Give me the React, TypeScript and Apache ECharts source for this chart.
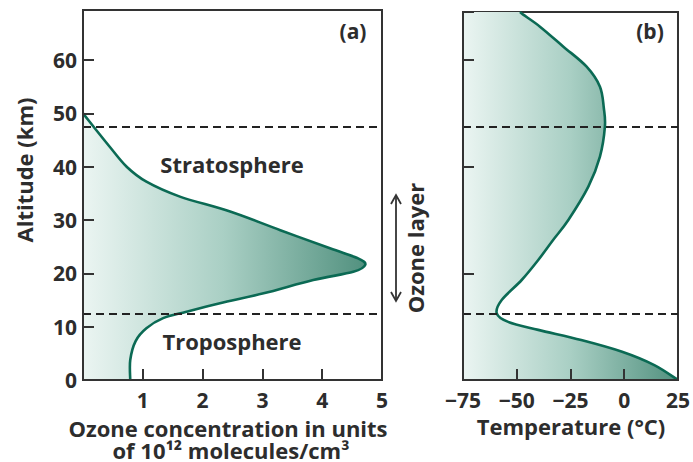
import React, { useEffect, useRef } from "react";
import * as echarts from "echarts";

// Panel (a): ozone concentration (10^12 molecules/cm3) vs altitude (km)
const ozoneConc = [0.79, 0.79, 0.88, 1.06, 1.34, 1.73, 2.29, 3.02, 3.85, 4.52, 4.72, 4.6, 4.13, 3.3, 2.46, 1.62, 1.06, 0.73, 0.45, 0.22, 0.0];
const ozoneAlt = [0, 3.75, 7.3, 9.7, 11.6, 12.8, 14.4, 16.25, 18.75, 20.3, 21.6, 22.8, 24.7, 28.1, 31.6, 34.4, 37.2, 40, 43.7, 46.9, 50];

// Panel (b): temperature (°C) vs altitude (km)
const tempC = [25, 14, -1, -20, -40, -54, -59.3, -57, -47.7, -40, -33, -26, -16.7, -11.3, -9, -9.5, -11.3, -17.5, -28.3, -39.2, -47, -48.5];
const tempAlt = [0, 2.8, 5.3, 7.5, 9.4, 10.9, 12.5, 15, 18.75, 22.5, 26.3, 30, 36.25, 41.9, 47.5, 51, 55, 58.75, 62.5, 66.25, 68.5, 69];

const altTicks = [0, 10, 20, 30, 40, 50, 60];
const ozoneTicks = [0, 1, 2, 3, 4, 5];
const tempTicks = [-75, -50, -25, 0, 25];
const boundaryAlt = [47.5, 12.5];

const FONT = "Open Sans";
const INK = "#2d2d2d";
const CURVE = "#0b6a54";

function fmt(p: number[]) {
  return p[0].toFixed(2) + " " + p[1].toFixed(2);
}

function curveSegments(pts: number[][]) {
  let d = "";
  for (let i = 0; i < pts.length - 1; i++) {
    const p0 = pts[i - 1] || pts[i];
    const p1 = pts[i];
    const p2 = pts[i + 1];
    const p3 = pts[i + 2] || p2;
    const c1 = [p1[0] + (p2[0] - p0[0]) / 6, p1[1] + (p2[1] - p0[1]) / 6];
    const c2 = [p2[0] - (p3[0] - p1[0]) / 6, p2[1] - (p3[1] - p1[1]) / 6];
    d += " C " + fmt(c1) + " " + fmt(c2) + " " + fmt(p2);
  }
  return d;
}

function makeRenderer(xs: number[], ys: number[], baseX: number) {
  return (params: any, api: any) => {
    if (params.dataIndex !== 0) return null;
    const pts = xs.map((x, i) => api.coord([x, ys[i]]));
    const segs = curveSegments(pts);
    const b0 = api.coord([baseX, ys[0]]);
    const bN = api.coord([baseX, ys[ys.length - 1]]);
    const fillPath = "M " + fmt(b0) + " L " + fmt(pts[0]) + segs + " L " + fmt(bN) + " Z";
    const strokePath = "M " + fmt(pts[0]) + segs;
    return {
      type: "group",
      children: [
        {
          type: "path",
          shape: { pathData: fillPath },
          style: {
            fill: new echarts.graphic.LinearGradient(0, 0, 1, 0, [
              { offset: 0, color: "#ebf5f2" },
              { offset: 0.5, color: "#a9cfc4" },
              { offset: 1, color: "#52917f" },
            ]),
            stroke: null,
          },
        },
        {
          type: "path",
          shape: { pathData: strokePath },
          style: { fill: null, stroke: CURVE, lineWidth: 2.6 },
        },
      ],
    };
  };
}

const tickLabel = {
  color: INK,
  fontFamily: FONT,
  fontWeight: "bold" as const,
  fontSize: 21,
};

const dashed = {
  silent: true,
  symbol: ["none", "none"],
  label: { show: false },
  lineStyle: { type: [8, 5], color: "#222", width: 2 },
  data: boundaryAlt.map((v) => ({ yAxis: v })),
};

const axisLine = { show: true, onZero: false, lineStyle: { color: "#333", width: 2 } };
const axisTick = { show: true, inside: true, length: 11, lineStyle: { color: "#333", width: 2 } };

export default function App() {
  const ref = useRef<HTMLDivElement>(null);
  useEffect(() => {
    if (!ref.current) return;
    const chart = echarts.init(ref.current, null, { renderer: "svg" });
    const titleStyle = { fill: INK, fontFamily: FONT, fontWeight: "bold", fontSize: 22 };
    chart.setOption({
      animation: false,
      grid: [
        { left: 83, right: 311, top: 10, bottom: 82, show: true, borderColor: "#333", borderWidth: 2 },
        { left: 463, right: 15, top: 12, bottom: 82, show: true, borderColor: "#333", borderWidth: 2 },
      ],
      xAxis: [
        {
          type: "value",
          gridIndex: 0,
          min: ozoneTicks[0],
          max: ozoneTicks[ozoneTicks.length - 1],
          interval: 1,
          z: 5,
          splitLine: { show: false },
          axisLine,
          axisTick,
          axisLabel: { ...tickLabel, margin: 9, formatter: (v: number) => (v === 0 ? "" : String(v)) },
        },
        {
          type: "value",
          gridIndex: 1,
          min: tempTicks[0],
          max: tempTicks[tempTicks.length - 1],
          interval: 25,
          z: 5,
          splitLine: { show: false },
          axisLine,
          axisTick,
          axisLabel: {
            ...tickLabel,
            margin: 9,
            formatter: (v: number) => (v < 0 ? "\u2212" + Math.abs(v) : String(v)),
          },
        },
      ],
      yAxis: [
        {
          type: "value",
          gridIndex: 0,
          min: altTicks[0],
          max: 69.4,
          interval: 10,
          z: 5,
          splitLine: { show: false },
          axisLine,
          axisTick,
          axisLabel: {
            ...tickLabel,
            margin: 6,
            formatter: (v: number) => (altTicks.indexOf(v) >= 0 ? String(v) : ""),
          },
        },
        {
          type: "value",
          gridIndex: 1,
          min: 0,
          max: 69,
          interval: 20,
          z: 5,
          splitLine: { show: false },
          axisLine,
          axisTick,
          axisLabel: { show: false },
        },
      ],
      series: [
        {
          type: "custom",
          xAxisIndex: 0,
          yAxisIndex: 0,
          z: 2,
          encode: { x: 0, y: 1 },
          data: ozoneConc.map((c, i) => [c, ozoneAlt[i]]),
          renderItem: makeRenderer(ozoneConc, ozoneAlt, 0),
          markLine: dashed,
        },
        {
          type: "custom",
          xAxisIndex: 1,
          yAxisIndex: 1,
          z: 2,
          encode: { x: 0, y: 1 },
          data: tempC.map((c, i) => [c, tempAlt[i]]),
          renderItem: makeRenderer(tempC, tempAlt, -75),
          markLine: dashed,
        },
      ],
      graphic: [
        { type: "text", x: 24, y: 170, rotation: Math.PI / 2, style: { ...titleStyle, text: "Altitude (km)", align: "center", verticalAlign: "middle" } },
        { type: "text", x: 353, y: 31, style: { ...titleStyle, fontSize: 21, text: "(a)", align: "center", verticalAlign: "middle" } },
        { type: "text", x: 650, y: 31, style: { ...titleStyle, fontSize: 21, text: "(b)", align: "center", verticalAlign: "middle" } },
        { type: "text", x: 232, y: 164, style: { ...titleStyle, text: "Stratosphere", align: "center", verticalAlign: "middle" } },
        { type: "text", x: 232, y: 341, style: { ...titleStyle, text: "Troposphere", align: "center", verticalAlign: "middle" } },
        { type: "text", x: 415, y: 248, rotation: Math.PI / 2, style: { ...titleStyle, text: "Ozone layer", align: "center", verticalAlign: "middle" } },
        { type: "line", shape: { x1: 396, y1: 195, x2: 396, y2: 301 }, style: { stroke: "#333", lineWidth: 1.8 } },
        { type: "polyline", shape: { points: [[391, 204], [396, 195], [401, 204]] }, style: { stroke: "#333", lineWidth: 1.8, fill: null } },
        { type: "polyline", shape: { points: [[391, 292], [396, 301], [401, 292]] }, style: { stroke: "#333", lineWidth: 1.8, fill: null } },
        { type: "text", x: 228, y: 428, style: { ...titleStyle, text: "Ozone concentration in units", align: "center", verticalAlign: "middle" } },
        { type: "text", x: 231, y: 450, style: { ...titleStyle, text: "of 10\u00b9\u00b2 molecules/cm\u00b3", align: "center", verticalAlign: "middle" } },
        { type: "text", x: 571, y: 426, style: { ...titleStyle, text: "Temperature (\u00b0C)", align: "center", verticalAlign: "middle" } },
      ],
    });
    return () => chart.dispose();
  }, []);
  return <div ref={ref} style={{ width: 693, height: 462, position: "absolute", left: 0, top: 0 }} />;
}
